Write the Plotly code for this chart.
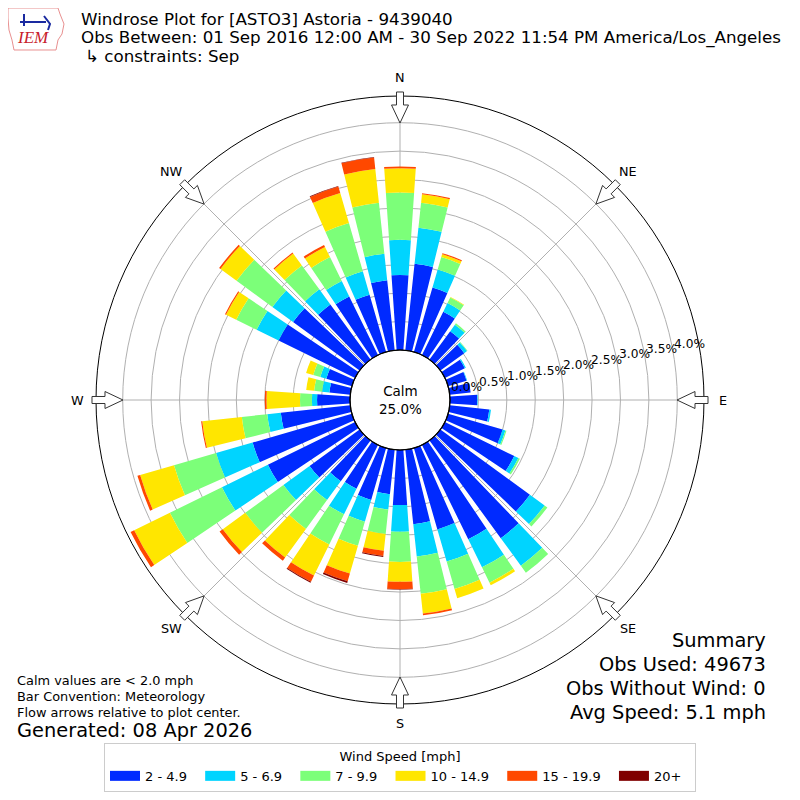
import numpy as np
import plotly.graph_objects as go

# wind direction bins (deg, meteorological) and speed bins
directions = list(range(0, 360, 10))
speed_labels = ['2 - 4.9', '5 - 6.9', '7 - 9.9', '10 - 14.9', '15 - 19.9', '20+']
speed_colors = ['#002aff', '#00d4ff', '#7cff79', '#ffe600', '#ff4800', '#800000']

# frequency (% of obs) per direction for each speed bin
freq_2_5 = [1.32, 1.53, 1.18, 0.85, 0.62, 0.52, 0.39, 0.34, 0.37, 0.48, 0.70, 1.00,
            1.36, 1.95, 2.13, 1.85, 1.49, 1.32, 0.97, 0.79, 0.95, 0.86, 0.89, 1.09,
            1.71, 1.82, 1.23, 0.58, 0.37, 0.47, 1.50, 1.45, 1.20, 1.15, 1.05, 1.24]
freq_5_7 = [0.62, 0.64, 0.33, 0.17, 0.14, 0.06, 0.02, 0.01, 0.00, 0.01, 0.03, 0.05,
            0.08, 0.32, 0.60, 0.55, 0.59, 0.57, 0.47, 0.27, 0.40, 0.50, 0.41, 0.57,
            0.90, 0.67, 0.24, 0.09, 0.13, 0.11, 0.43, 0.45, 0.33, 0.30, 0.43, 0.47]
freq_7_10 = [0.83, 0.44, 0.23, 0.11, 0.03, 0.01, 0.00, 0.00, 0.00, 0.00, 0.00, 0.02,
             0.03, 0.06, 0.15, 0.30, 0.50, 0.66, 0.53, 0.43, 0.44, 0.59, 0.63, 0.83,
             1.02, 0.77, 0.45, 0.21, 0.14, 0.13, 0.40, 0.78, 0.52, 0.47, 0.88, 0.90]
freq_10_15 = [0.43, 0.15, 0.05, 0.01, 0.00, 0.00, 0.00, 0.00, 0.00, 0.00, 0.00, 0.00,
              0.00, 0.00, 0.00, 0.05, 0.17, 0.35, 0.35, 0.30, 0.51, 0.61, 0.62, 0.49,
              0.70, 0.62, 0.70, 0.59, 0.14, 0.13, 0.20, 0.35, 0.26, 0.20, 0.55, 0.60]
freq_15_20 = [0.03, 0.02, 0.02, 0.00, 0.00, 0.00, 0.00, 0.00, 0.00, 0.00, 0.00, 0.00,
              0.00, 0.00, 0.00, 0.00, 0.00, 0.03, 0.13, 0.09, 0.14, 0.12, 0.07, 0.07,
              0.07, 0.05, 0.02, 0.03, 0.00, 0.00, 0.02, 0.03, 0.02, 0.04, 0.12, 0.20]
freq_20_up = [0.00, 0.00, 0.00, 0.00, 0.00, 0.00, 0.00, 0.00, 0.00, 0.00, 0.00, 0.00,
              0.00, 0.00, 0.00, 0.00, 0.00, 0.00, 0.01, 0.02, 0.03, 0.02, 0.00, 0.00,
              0.00, 0.00, 0.00, 0.00, 0.00, 0.00, 0.00, 0.00, 0.00, 0.00, 0.01, 0.01]

radial_ticks = [0.0, 0.5, 1.0, 1.5, 2.0, 2.5, 3.0, 3.5, 4.0]
compass = ['N', 'NE', 'E', 'SE', 'S', 'SW', 'W', 'NW']
calm_pct = 25.0
summary = ['Summary', 'Obs Used: 49673', 'Obs Without Wind: 0', 'Avg Speed: 5.1 mph']
notes = ['Calm values are < 2.0 mph', 'Bar Convention: Meteorology',
         'Flow arrows relative to plot center.']

# the page body adds an 8px margin, so the figure is 792px and screen coords are shifted
OFF = 8
W = H = 800 - OFF
CX, CY = 400, 400
R_OUT, R_HOLE = 304, 50
RMAX = 4.47
FONT = 'DejaVu Sans'


def px(x):
    return (x - OFF) / W


def py(y):
    return 1 - (y - OFF) / H


fig = go.Figure()

all_freqs = [freq_2_5, freq_5_7, freq_7_10, freq_10_15, freq_15_20, freq_20_up]
for label, color, vals in zip(speed_labels, speed_colors, all_freqs):
    fig.add_trace(go.Barpolar(
        r=vals, theta=directions, width=7.8, name=label,
        marker=dict(color=color, line=dict(width=0)),
        showlegend=False, hoverinfo='skip'
    ))

# legend proxies so the legend shows wide colour patches
for label, color in zip(speed_labels, speed_colors):
    fig.add_trace(go.Scatterpolar(
        r=[None], theta=[None], mode='lines', name=label + '\u00a0' * 2,
        line=dict(color=color, width=10)
    ))

fig.update_layout(
    width=W, height=H,
    margin=dict(l=0, r=0, t=0, b=0),
    paper_bgcolor='white',
    font=dict(family=FONT, size=13, color='black'),
    polar=dict(
        domain=dict(x=[px(CX - R_OUT), px(CX + R_OUT)], y=[py(CY + R_OUT), py(CY - R_OUT)]),
        hole=R_HOLE / R_OUT,
        bgcolor='white',
        barmode='stack',
        radialaxis=dict(
            range=[0, RMAX], tickvals=radial_ticks, showticklabels=False,
            ticks='', showline=False, gridcolor='#b0b0b0', gridwidth=1,
            layer='above traces'
        ),
        angularaxis=dict(
            rotation=90, direction='clockwise', tickvals=list(range(0, 360, 45)),
            showticklabels=False, ticks='', gridcolor='#b0b0b0', gridwidth=1,
            linecolor='black', linewidth=1, layer='above traces'
        ),
    ),
    legend=dict(
        orientation='h', x=px(400), xanchor='center', y=py(743), yanchor='top',
        bordercolor='#cccccc', borderwidth=1, bgcolor='white',
        title=dict(text='Wind Speed [mph]', side='top center', font=dict(size=13)),
        font=dict(size=13), itemwidth=30,
    ),
)

shapes = []
# calm circle
shapes.append(dict(type='circle', xref='paper', yref='paper',
                   x0=px(CX - R_HOLE), x1=px(CX + R_HOLE),
                   y0=py(CY + R_HOLE), y1=py(CY - R_HOLE),
                   line=dict(color='black', width=1.2), layer='above'))

# flow arrows at the compass points
arrow = [(277, 0), (295, 8.5), (295, 3.5), (308, 3.5), (308, -3.5), (295, -3.5), (295, -8.5)]
for k in range(8):
    a = np.deg2rad(k * 45)
    pts = []
    for u, v in arrow:
        x = CX + u * np.sin(a) + v * np.cos(a)
        y = CY - u * np.cos(a) + v * np.sin(a)
        pts.append(f'{px(x):.5f},{py(y):.5f}')
    shapes.append(dict(type='path', xref='paper', yref='paper',
                       path='M' + ' L'.join(pts) + ' Z',
                       fillcolor='white', line=dict(color='#333333', width=1),
                       layer='above'))

# IEM logo outline
logo = [(8, 8), (58, 8), (60, 14), (64, 24), (62, 34), (58, 40), (56, 50), (14, 50), (12, 40), (9, 30), (8, 18)]
shapes.append(dict(type='path', xref='paper', yref='paper',
                   path='M' + ' L'.join(f'{px(x):.5f},{py(y):.5f}' for x, y in logo) + ' Z',
                   line=dict(color='#e89090', width=1), layer='above'))
shapes.append(dict(type='path', xref='paper', yref='paper',
                   path=f'M{px(20):.5f},{py(22):.5f} L{px(46):.5f},{py(22):.5f} '
                        f'M{px(24):.5f},{py(14):.5f} L{px(24):.5f},{py(26):.5f} '
                        f'M{px(44):.5f},{py(16):.5f} L{px(50):.5f},{py(24):.5f} L{px(48):.5f},{py(30):.5f}',
                   line=dict(color='#1a2aa0', width=2), layer='above'))
fig.update_layout(shapes=shapes)

ann = []


def text(x, y, s, size, xanchor='left', yanchor='middle', **kw):
    ann.append(dict(x=px(x), y=py(y), xref='paper', yref='paper', text=s,
                    showarrow=False, xanchor=xanchor, yanchor=yanchor, borderpad=0,
                    font=dict(family=kw.get('family', FONT), size=size,
                              color=kw.get('color', 'black'))))


text(80, 19, 'Windrose Plot for [ASTO3] Astoria - 9439040', 16.7)
text(80, 37, 'Obs Between: 01 Sep 2016 12:00 AM - 30 Sep 2022 11:54 PM America/Los_Angeles', 16.7)
text(84, 56, '↳ constraints: Sep', 16.7)
text(33, 38, '<i>IEM</i>', 17, xanchor='center', family='Liberation Serif', color='#c8202a')

# compass labels
for k, lab in enumerate(compass):
    a = np.deg2rad(k * 45)
    text(CX + 323 * np.sin(a), CY - 323 * np.cos(a), lab, 12.8, xanchor='center')

# radial tick labels along the 11 deg ray
ang = np.deg2rad(11)
for v in radial_ticks:
    rr = R_HOLE + (R_OUT - R_HOLE) * v / RMAX + 18
    text(CX + rr * np.cos(ang), CY - rr * np.sin(ang), f'{v:.1f}%', 12.2, xanchor='center')

text(CX, CY, f'Calm<br>{calm_pct:.1f}%', 13.5, xanchor='center')

for i, s in enumerate(summary):
    text(767, 640 + 24 * i, s, 19.4, xanchor='right')
for i, s in enumerate(notes):
    text(16, 680 + 16 * i, s, 12.9)
text(16, 730, 'Generated: 08 Apr 2026', 19.4)

fig.update_layout(annotations=ann)
fig.write_html('out.html')
